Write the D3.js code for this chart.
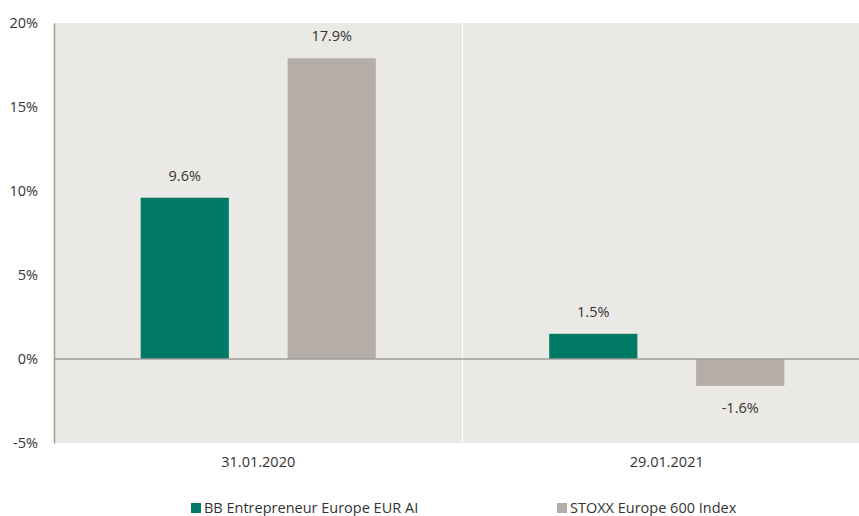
<!DOCTYPE html>
<html>
<head>
<meta charset="utf-8">
<script src="https://cdn.jsdelivr.net/npm/d3@7"></script>
<style>
  body { margin: 0; background: #fff; }
  text { font-family: "Open Sans", "Noto Sans", sans-serif; fill: #333; }
</style>
</head>
<body>
<div id="chart-area"></div>
<script>
// data
var categories = ["31.01.2020", "29.01.2021"];
var seriesNames = ["BB Entrepreneur Europe EUR AI", "STOXX Europe 600 Index"];
var fundValues = [9.6, 1.5];
var indexValues = [17.9, -1.6];
var yTicks = [-5, 0, 5, 10, 15, 20];
var colors = ["#007a65", "#b5ada7"];

var fs = "14.5px";
var margin = {left: 54, right: -12, top: 23, bottom: 73};
var totalW = 859, totalH = 516;
var width = totalW - margin.left - margin.right,
    height = totalH - margin.top - margin.bottom;

var svg = d3.select("#chart-area")
  .append("svg")
    .attr("width", totalW)
    .attr("height", totalH)
  .append("g")
    .attr("transform", "translate(" + margin.left + "," + margin.top + ")");

var x = d3.scaleBand().domain(categories).range([0, width]);
var x1 = d3.scaleBand().domain(seriesNames).range([0, x.bandwidth()]).paddingInner(0.4).paddingOuter(0.59);
var y = d3.scaleLinear().domain([-5, 20]).range([height, 0]);

// background
svg.append("rect")
  .attr("width", width).attr("height", height)
  .attr("fill", "#ebe9e5");

// divider between categories
svg.append("line")
  .attr("x1", x(categories[1])).attr("x2", x(categories[1]))
  .attr("y1", 0).attr("y2", height)
  .attr("stroke", "#fff").attr("stroke-width", 1.2);

// bars
var rows = categories.map(function(c, i) {
  return [{cat: c, s: seriesNames[0], v: fundValues[i], c: colors[0]},
          {cat: c, s: seriesNames[1], v: indexValues[i], c: colors[1]}];
});
var flat = [].concat.apply([], rows);

svg.selectAll(".bar").data(flat).enter().append("rect")
  .attr("class", "bar")
  .attr("x", function(d) { return x(d.cat) + x1(d.s); })
  .attr("y", function(d) { return y(Math.max(0, d.v)); })
  .attr("width", x1.bandwidth())
  .attr("height", function(d) { return Math.abs(y(d.v) - y(0)); })
  .attr("fill", function(d) { return d.c; });

// value labels
svg.selectAll(".lbl").data(flat).enter().append("text")
  .attr("class", "lbl")
  .attr("x", function(d) { return x(d.cat) + x1(d.s) + x1.bandwidth() / 2; })
  .attr("y", function(d) { return d.v >= 0 ? y(d.v) - 17 : y(d.v) + 27; })
  .attr("text-anchor", "middle")
  .attr("font-size", fs)
  .text(function(d) { return d.v.toFixed(1) + "%"; });

// zero line
svg.append("line")
  .attr("x1", 0).attr("x2", width)
  .attr("y1", y(0)).attr("y2", y(0))
  .attr("stroke", "#a09e9b").attr("stroke-width", 1.5);

// y axis
var yAxis = svg.append("g")
  .call(d3.axisLeft(y).tickValues(yTicks).tickSize(0).tickPadding(16)
    .tickFormat(function(d) { return d + "%"; }));
yAxis.select(".domain").attr("stroke", "#a09e9b").attr("stroke-width", 1.5);
yAxis.selectAll("text").attr("font-size", fs).attr("fill", "#333")
  .attr("font-family", "Open Sans, Noto Sans, sans-serif");

// x axis
var xAxis = svg.append("g")
  .attr("transform", "translate(0," + height + ")")
  .call(d3.axisBottom(x).tickSize(0).tickPadding(14));
xAxis.select(".domain").remove();
xAxis.selectAll("text").attr("font-size", fs).attr("fill", "#333")
  .attr("font-family", "Open Sans, Noto Sans, sans-serif");

// legend
var legendX = [191, 557];
var legend = d3.select("svg").selectAll(".legend").data(seriesNames).enter().append("g")
  .attr("class", "legend")
  .attr("transform", function(d, i) { return "translate(" + legendX[i] + ",503)"; });
legend.append("rect").attr("width", 10).attr("height", 10)
  .attr("fill", function(d, i) { return colors[i]; });
legend.append("text").attr("x", 13).attr("y", 10)
  .attr("font-size", fs)
  .text(function(d) { return d; });
</script>
</body>
</html>
